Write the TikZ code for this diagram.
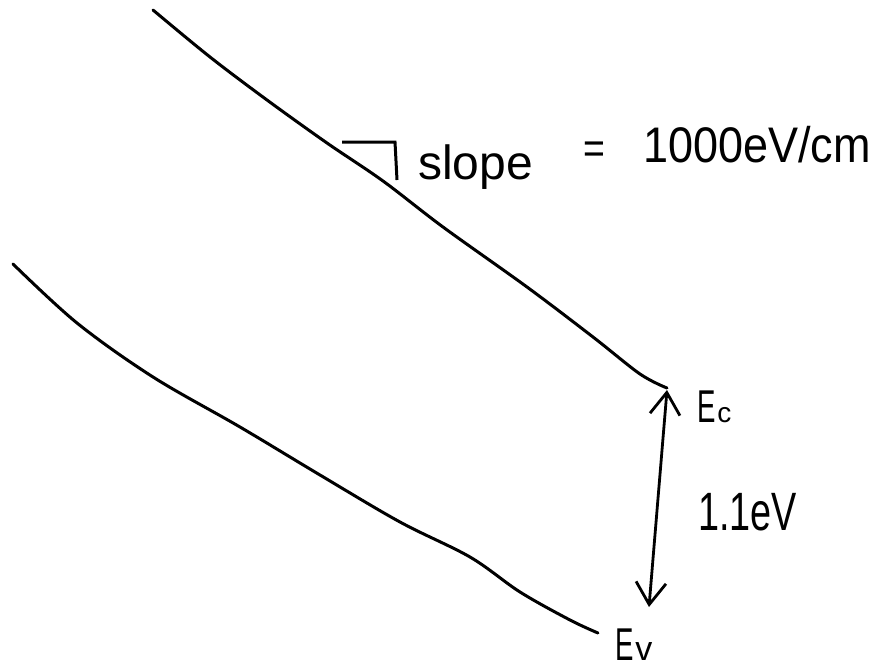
\documentclass[tikz,border=0pt]{standalone}
\usepackage{fontspec}
\setmainfont{Liberation Sans}
\usetikzlibrary{arrows.meta}
\tikzset{
  band/.style={line width=3pt, line cap=round, line join=round},
  lbl/.style={inner sep=0pt, outer sep=0pt, anchor=base west},
  gaparrow/.style={line width=2.8pt, line cap=round,
    {Straight Barb[length=22pt,width=30pt,line width=2.8pt]}-{Straight Barb[length=22pt,width=30pt,line width=2.8pt]}}
}
\newcommand{\fsz}[1]{\fontsize{#1}{#1}\selectfont}
\begin{document}
\begin{tikzpicture}[x=1pt,y=-1pt]
\useasboundingbox (0,0) rectangle (879,670);
% conduction band edge
\draw[band] plot[smooth, tension=0.55] coordinates {
  (153,10) (210,57) (267,100) (327,143) (383,181) (443,227)
  (527,287) (593,337) (640,374) (667,388)};
\coordinate (ecend) at (667,390);
% valence band edge
\draw[band] plot[smooth, tension=0.55] coordinates {
  (13,264) (77,323) (153,377) (240,427) (320,475) (400,522)
  (470,557) (520,592) (570,620) (598,633)};
\coordinate (evtop) at (649,607);
% slope right-angle mark
\coordinate (m1) at (342,142);
\coordinate (m2) at (395,142);
\coordinate (m3) at (397,180);
\draw[line width=3pt, line join=miter] (m1) -- (m2) -- (m3);
% labels
\node[lbl] (slope) at (418,179) {\fsz{48}slope};
\node[lbl] (eq) at (583,163) {\fsz{44}\scalebox{0.85}[1]{=}};
\node[lbl] (val) at (643,162) {\fsz{50}\scalebox{0.9}[1]{1000eV/cm}};
\node[lbl] (ec) at (697,422) {\fsz{46}\scalebox{0.6}[1]{E}\kern2pt{\fsz{28}c}};
\node[lbl] (ev) at (615,660) {\fsz{46}\scalebox{0.6}[1]{E}\kern2pt{\fsz{34}v}};
\node[lbl] (gap) at (698,530) {\fsz{54}\scalebox{0.7}[1]{1.1eV}};
% band gap arrow
\draw[gaparrow] (ecend) -- (evtop);
\end{tikzpicture}
\end{document}
